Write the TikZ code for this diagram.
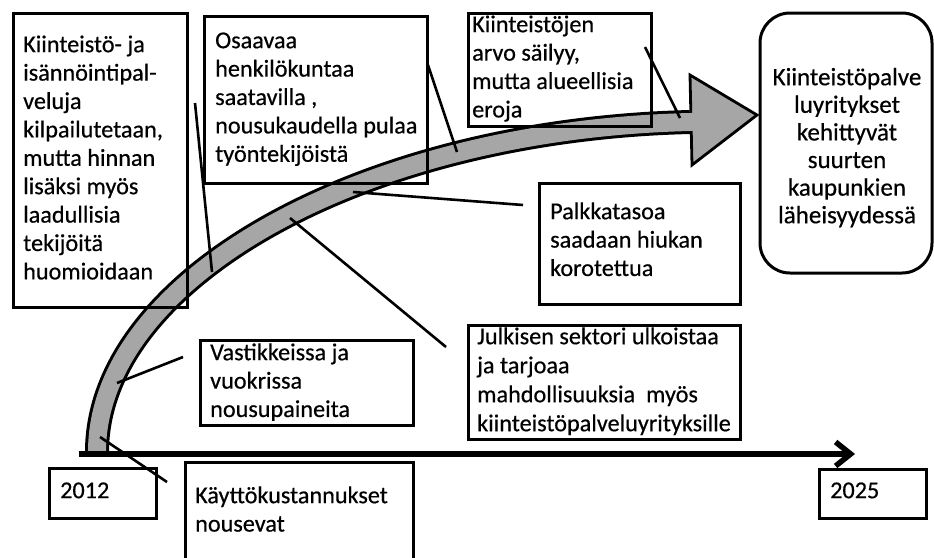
\documentclass[tikz,border=0pt]{standalone}
\usepackage{fontspec}
\setmainfont{Carlito}[FakeBold=0.5]
\usetikzlibrary{arrows.meta,fit}
\definecolor{shaftgray}{RGB}{166,166,166}
\begin{document}
\begin{tikzpicture}[x=1pt,y=-1pt,
  box/.style={draw=black, line width=3pt, inner sep=0pt},
  txt/.style={font=\fontsize{24.2}{28.4}\selectfont, align=left, inner sep=0pt, anchor=north west},
  callout/.style={draw=black, line width=2.6pt},
]
\useasboundingbox (0,0) rectangle (934,557);
\clip (0,0) rectangle (934,557);

% curved growth arrow: black rim, head, then grey core
\coordinate (s0) at (97,452);
\coordinate (s1) at (690,122);
\draw[line width=24pt] (s0) .. controls (97,280) and (360,130) .. (s1);
\draw[fill=shaftgray, line width=2.8pt, line join=miter] (690,75) -- (757,115) -- (692,165) -- cycle;
\draw[shaftgray, line width=18pt] (s0) .. controls (97,280) and (360,130) .. (s1) -- (698,121.6);

% time axis
\coordinate (a0) at (79,454);
\coordinate (a1) at (855,454);
\draw[line width=5.5pt, -{Straight Barb[length=15pt,width=24pt]}] (a0) -- (a1);

% boxes
\node[box, fit={(13,13) (187,307)}] (b1) {};
\node[box, fit={(204,16) (427,183)}] (b2) {};
\node[box, fit={(468,13) (651,126)}] (b3) {};
\node[box, rounded corners=30pt, fit={(760,13) (932,273)}] (b4) {};
\node[box, fit={(539,183) (740,304)}] (b5) {};
\node[box, fit={(468,325) (740,439)}] (b6) {};
\node[box, fit={(200,340) (413,425)}] (b7) {};
\node[box, fit={(185,462) (413,562)}] (b8) {};
\node[box, fit={(49,468) (156,518)}] (b9) {};
\node[box, fit={(819,469) (926,518)}] (b10) {};

% texts
\node[txt] (t1) at (23,32.1) {\strut Kiinteistö- ja\\isännöintipal-\\veluja\\kilpailutetaan,\\mutta hinnan\\lisäksi myös\\laadullisia\\tekijöitä\\huomioidaan};
\node[txt] (t2) at (215,28.1) {\strut Osaavaa\\henkilökuntaa\\saatavilla ,\\nousukaudella pulaa\\työntekijöistä};
\node[txt] (t3) at (472,12.1) {\strut Kiinteistöjen\\arvo säilyy,\\mutta alueellisia\\eroja};
\node[txt, font=\fontsize{25}{27.6}\selectfont, align=center, anchor=north] (t4) at (847,65.7) {\strut Kiinteistöpalve\\luyritykset\\kehittyvät\\suurten\\kaupunkien\\läheisyydessä};
\node[txt] (t5) at (550,199.1) {\strut Palkkatasoa\\saadaan hiukan\\korotettua};
\node[txt, font=\fontsize{24.2}{29}\selectfont] (t6) at (477,323.7) {\strut Julkisen sektori ulkoistaa\\ja tarjoaa\\mahdollisuuksia\ \ myös\\kiinteistöpalveluyrityksille};
\node[txt] (t7) at (210,340.1) {\strut Vastikkeissa ja\\vuokrissa\\nousupaineita};
\node[txt] (t8) at (195,483.1) {\strut Käyttökustannukset\\nousevat};
\node[txt] (t9) at (60,478.1) {\strut 2012};
\node[txt] (t10) at (830,478.1) {\strut 2025};

% callout lines to the arrow
\coordinate (p1) at (195,103);  \coordinate (q1) at (212,272);
\coordinate (p2) at (428,65);   \coordinate (q2) at (457,152);
\coordinate (p3) at (645,47);   \coordinate (q3) at (680,118);
\coordinate (p4) at (523,205);  \coordinate (q4) at (353,192);
\coordinate (p5) at (446,347);  \coordinate (q5) at (290,218);
\coordinate (p6) at (183,357);  \coordinate (q6) at (117,383);
\coordinate (p7) at (167,482);  \coordinate (q7) at (100,437);
\foreach \i in {1,...,7} \draw[callout] (p\i) -- (q\i);
\end{tikzpicture}
\end{document}
